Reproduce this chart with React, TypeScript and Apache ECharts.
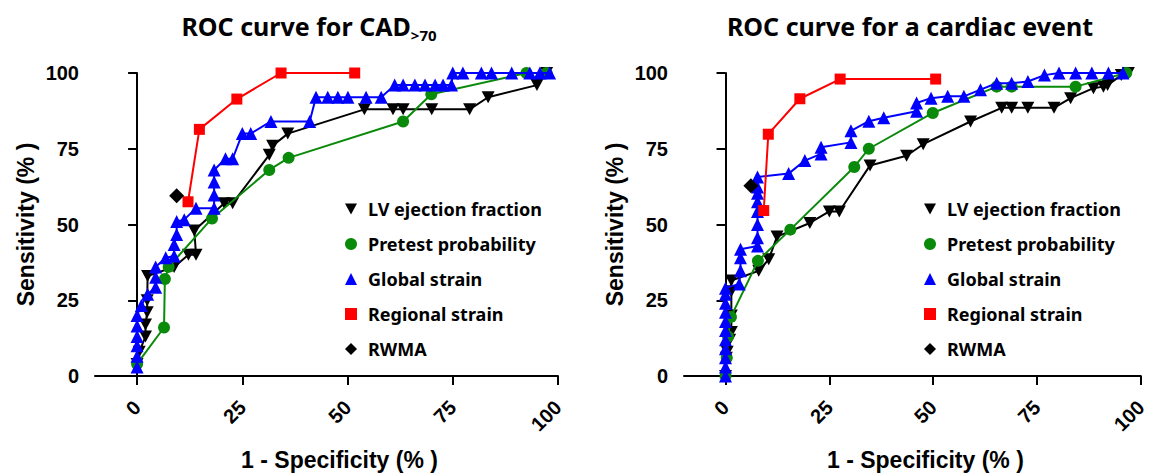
import React, { useEffect, useRef } from "react";
import * as echarts from "echarts";

type P = [number, number];

const seriesNames = ["LV ejection fraction", "Pretest probability", "Global strain", "Regional strain", "RWMA"];
const xTicks = [0, 25, 50, 75, 100];
const yTicks = [0, 25, 50, 75, 100];

// ROC curve for CAD>70
const cadLVEF: P[] = [[0,4],[0.5,8],[2,13],[2,17],[2.4,21],[2.4,25],[2.5,33],[8.8,36],[12.2,40],[14,40],[13.6,48],[20.7,57],[22.7,57],[31.4,73],[32.2,76],[35.8,80],[54,88],[60.8,88],[63.2,88],[70,88],[79,88],[83.4,92],[95,96],[97.3,100]];
const cadPretest: P[] = [[0,4],[6.4,16],[6.6,32],[7.5,36],[17.8,52],[31.4,68],[36,72],[63.2,84],[69.9,93],[92.5,100],[97.3,100]];
const cadGlobal: P[] = [[0,3],[0,6.5],[0,10],[0,13],[0,16.5],[0,20],[1,23.3],[2.5,27],[4.4,29.3],[4.4,32.6],[4.4,36],[6.8,39],[8.8,39.6],[8.8,43.4],[9.4,46.7],[9.4,51],[11.2,51.6],[14,55.4],[18.3,55.4],[18.3,59.7],[18.3,64],[18.3,68],[21,71.7],[22.7,71.7],[25,80],[27,80],[31.8,84],[41,84],[42.5,92],[45.3,92],[47.7,92],[50.1,92],[54.4,92],[58,92],[61.2,96],[63.2,96],[66,96],[68.4,96],[70.8,96],[72.7,96],[74.7,96],[75,100],[77.4,100],[81.8,100],[84.2,100],[89,100],[93.3,100],[95.7,100],[98,100]];
const cadRegional: P[] = [[12.1,57.5],[14.8,81.4],[23.7,91.4],[34.2,100],[51.7,100]];
const cadRWMA: P[] = [[9.4,59.5]];

// ROC curve for a cardiac event
const evLVEF: P[] = [[0,0],[0.2,6],[0.4,8],[1,12],[1.4,14.5],[1.4,20],[1.4,28],[1.4,31.5],[8,34.7],[10.4,38.5],[12.4,46],[20.3,50.5],[25,54.3],[27.4,54.3],[34.8,69.5],[43.6,72.7],[47.6,76.5],[59,84],[66.5,88.5],[68.9,88.5],[72.8,88.5],[79.1,88.5],[83.1,91.7],[88.6,95],[91,95.5],[92,96],[95.3,99.3],[97,100]];
const evPretest: P[] = [[0,0],[0.3,6],[0.6,13],[1.3,19.5],[7.8,38],[15.6,48.3],[31,69],[34.5,75],[49.9,86.8],[65.3,95.5],[68.9,95.5],[84.3,95.5],[96.5,100]];
const evGlobal: P[] = [[0,0],[0,3],[0,6],[0,9],[0,12],[0,15],[0,18],[0,21],[0,24],[0,27],[0,29],[3.3,30.4],[3.6,34.7],[3.6,39],[3.6,41.8],[7.7,42.9],[7.7,45.6],[7.7,50],[7.7,54.3],[7.7,57.5],[7.7,60.3],[7.7,62.4],[7.7,65.7],[15.2,66.8],[19.1,71.1],[23,73.3],[23,75.5],[30.2,77.1],[30.2,80.9],[34.5,84.1],[38.1,85.2],[46,87.4],[46,90.1],[49.5,91.7],[53.5,92.3],[57.4,92.3],[61.4,94.5],[65.3,96.6],[68.9,96.6],[72.8,97.2],[76.8,99.3],[80.3,100],[84.3,100],[88.2,100],[92.2,100],[95.7,100]];
const evRegional: P[] = [[9.2,54.6],[10.3,79.8],[17.9,91.5],[27.6,98],[50.6,98]];
const evRWMA: P[] = [[6.1,62.8]];

const INV_TRI = "path://M0,0L10,0L5,9Z";
const styles = [
  { color: "#000000", symbol: INV_TRI, size: [13, 12] },
  { color: "#0a8a0a", symbol: "circle", size: 12 },
  { color: "#0000ff", symbol: "triangle", size: 13 },
  { color: "#ff0000", symbol: "rect", size: 11 },
  { color: "#000000", symbol: "diamond", size: 15 },
];

const tickFont = { fontFamily: "Liberation Sans, Arial, sans-serif", fontWeight: "bold" as const, fontSize: 20, color: "#000" };

function makeAxes(idx: number) {
  const x = {
    type: "value", gridIndex: idx, min: -10, max: 100,
    name: "1 - Specificity (% )", nameLocation: "middle", nameGap: 72,
    nameTextStyle: { ...tickFont, fontSize: 23, padding: [0, 0, 0, 26] },
    splitLine: { show: false },
    axisLine: { onZero: false, lineStyle: { color: "#000", width: 2 } },
    axisTick: { show: true, length: 9, lineStyle: { color: "#000", width: 2 }, customValues: xTicks },
    axisLabel: { ...tickFont, rotate: 45, margin: 28, customValues: xTicks },
  };
  const y = {
    type: "value", gridIndex: idx, min: 0, max: 100, interval: 25,
    name: "Sensitivity (% )", nameLocation: "middle", nameGap: 58,
    nameTextStyle: { ...tickFont, fontSize: 23 },
    splitLine: { show: false },
    axisLine: { lineStyle: { color: "#000", width: 2 } },
    axisTick: { show: true, length: 9, lineStyle: { color: "#000", width: 2 } },
    axisLabel: { ...tickFont, margin: 16, customValues: yTicks },
  };
  return { x, y };
}

function makeSeries(idx: number, data: P[][]) {
  return data.map((d, i) => ({
    name: seriesNames[i],
    type: "line",
    xAxisIndex: idx,
    yAxisIndex: idx,
    data: d,
    symbol: styles[i].symbol,
    symbolSize: styles[i].size,
    showAllSymbol: true,
    z: 2 + i,
    lineStyle: { color: styles[i].color, width: 2 },
    itemStyle: { color: styles[i].color, borderWidth: 0 },
    emphasis: { disabled: true },
  }));
}

const legendIcons = [INV_TRI, "circle", "triangle", "rect", "diamond"];

function makeLegend(left: number) {
  return {
    orient: "vertical", left, top: 195, itemWidth: 12, itemHeight: 12, itemGap: 17,
    selectedMode: false,
    data: seriesNames.map((n, i) => ({ name: n, icon: legendIcons[i] })),
    textStyle: { fontFamily: "Noto Sans, sans-serif", fontWeight: "bold", fontSize: 18, color: "#000", padding: [0, 0, 0, 6] },
  };
}

export default function App() {
  const ref = useRef<HTMLDivElement>(null);
  useEffect(() => {
    if (!ref.current) return;
    const chart = echarts.init(ref.current, undefined, { renderer: "svg" });
    const a0 = makeAxes(0);
    const a1 = makeAxes(1);
    const titleRich = {
      a: { fontFamily: "Noto Sans, sans-serif", fontWeight: "bold", fontSize: 25, color: "#000", lineHeight: 32 },
      b: { fontFamily: "Noto Sans, sans-serif", fontWeight: "bold", fontSize: 15, color: "#000", verticalAlign: "bottom", lineHeight: 14 },
    };
    chart.setOption({
      animation: false,
      backgroundColor: "#fff",
      title: [
        { text: "{a|ROC curve for CAD}{b|>70}", left: 304, top: 5, textAlign: "center", textStyle: { rich: titleRich } },
        { text: "{a|ROC curve for a cardiac event}", left: 905, top: 5, textAlign: "center", textStyle: { rich: titleRich } },
      ],
      grid: [
        { left: 95, top: 73, width: 463, height: 307 },
        { left: 684, top: 73, width: 463, height: 307 },
      ],
      xAxis: [a0.x, a1.x],
      yAxis: [a0.y, a1.y],
      legend: [makeLegend(340), makeLegend(919)],
      series: [
        ...makeSeries(0, [cadLVEF, cadPretest, cadGlobal, cadRegional, cadRWMA]),
        ...makeSeries(1, [evLVEF, evPretest, evGlobal, evRegional, evRWMA]),
      ],
    });
    return () => chart.dispose();
  }, []);
  return <div ref={ref} style={{ position: "fixed", left: 0, top: 0, width: 1150, height: 476 }} />;
}
